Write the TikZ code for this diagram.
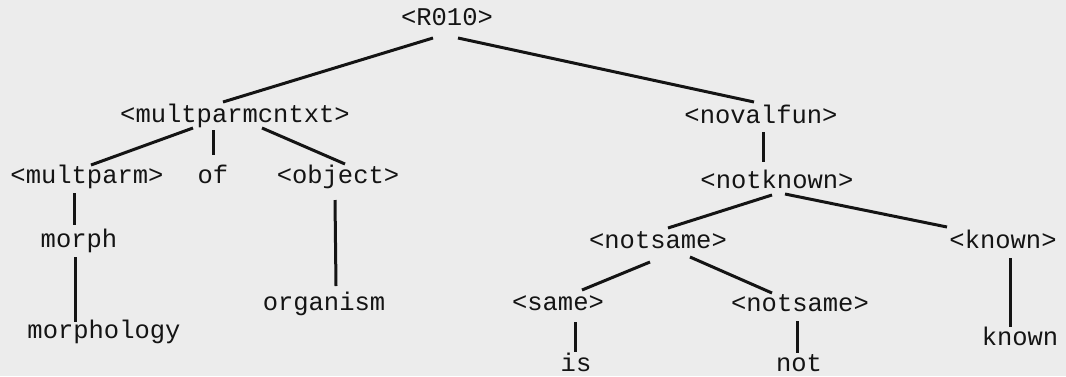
\documentclass[tikz,border=0pt]{standalone}
\usepackage{fontspec}
\newfontfamily\typew{Liberation Mono}
\usetikzlibrary{calc}
\definecolor{paper}{RGB}{236,236,236}
\definecolor{ink}{RGB}{20,20,20}
\begin{document}
\begin{tikzpicture}[x=1pt,y=-1pt,
  lab/.style={font=\typew\fontsize{25.5}{30}\selectfont, text=ink, inner sep=0pt, anchor=base},
  edge/.style={draw=ink, line width=3pt}]
\fill[paper] (0,0) rectangle (1066,376);
\useasboundingbox (0,0) rectangle (1066,376);
% nodes
\node[lab] (r)   at (447,25)  {<R010>};
\node[lab] (mc)  at (235,122) {<multparmcntxt>};
\node[lab] (mp)  at (87,183)  {<multparm>};
\node[lab] (of)  at (213,183) {of};
\node[lab] (ob)  at (338,183) {<object>};
\node[lab] (mo)  at (79,247)  {morph};
\node[lab] (mg)  at (104,338) {morphology};
\node[lab] (og)  at (324,310) {organism};
\node[lab] (nf)  at (761,123) {<novalfun>};
\node[lab] (nk)  at (777,188) {<notknown>};
\node[lab] (ns)  at (658,248) {<notsame>};
\node[lab] (kn)  at (1003,248) {<known>};
\node[lab] (sa)  at (558,310) {<same>};
\node[lab] (ns2) at (800,311) {<notsame>};
\node[lab] (is)  at (576,371) {is};
\node[lab] (no)  at (799,371) {not};
\node[lab] (kl)  at (1020,345) {known};
% connectors
\draw[edge] ($(r.base)+(-14,13)$) -- ($(mc.base)+(-12,-20)$);
\draw[edge] ($(r.base)+(11,13)$) -- ($(nf.base)+(-7,-21)$);
\draw[edge] ($(mc.base)+(-42,6)$) -- ($(mp.base)+(4,-18)$);
\draw[edge] ($(mc.base)+(-22,8)$) -- ($(of.base)+(0,-28)$);
\draw[edge] ($(mc.base)+(27,6)$) -- ($(ob.base)+(7,-19)$);
\draw[edge] ($(mp.base)+(-13,10)$) -- ($(mo.base)+(-5,-22)$);
\draw[edge] ($(mo.base)+(-4,10)$) -- ($(mg.base)+(-29,-16)$);
\draw[edge] ($(ob.base)+(-3,17)$) -- ($(og.base)+(12,-24)$);
\draw[edge] ($(nf.base)+(2,9)$) -- ($(nk.base)+(-14,-26)$);
\draw[edge] ($(nk.base)+(-5,7)$) -- ($(ns.base)+(10,-20)$);
\draw[edge] ($(nk.base)+(8,6)$) -- ($(kn.base)+(-56,-21)$);
\draw[edge] ($(ns.base)+(-8,14)$) -- ($(sa.base)+(24,-20)$);
\draw[edge] ($(ns.base)+(32,9)$) -- ($(ns2.base)+(-28,-18)$);
\draw[edge] ($(sa.base)+(17,12)$) -- ($(is.base)+(-1,-19)$);
\draw[edge] ($(ns2.base)+(-3,10)$) -- ($(no.base)+(-2,-18)$);
\draw[edge] ($(kn.base)+(7,10)$) -- ($(kl.base)+(-10,-18)$);
\end{tikzpicture}
\end{document}
